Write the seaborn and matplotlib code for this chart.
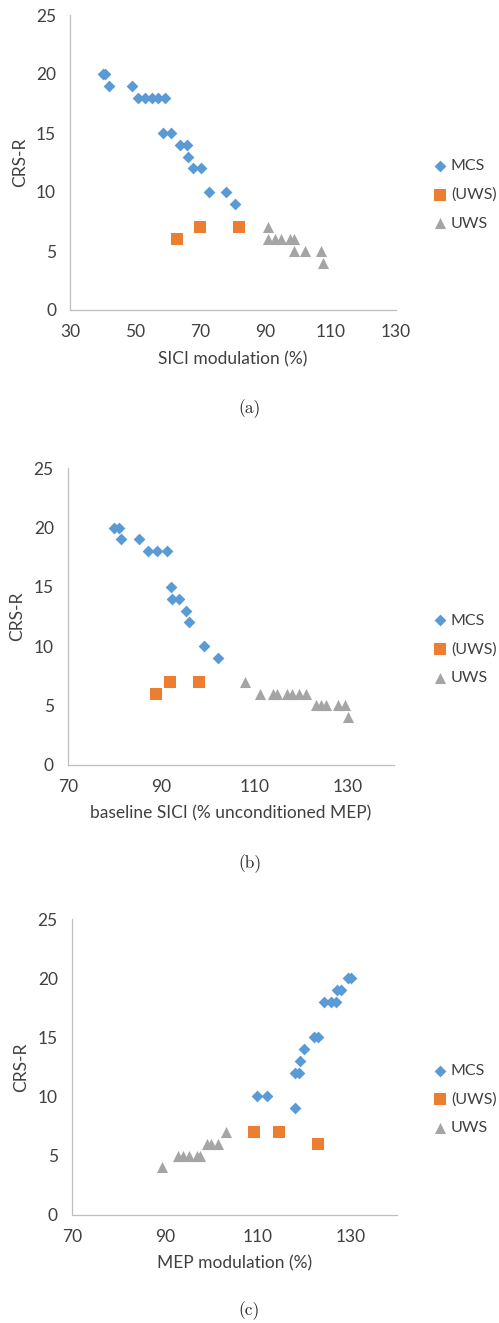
import pandas as pd
import seaborn as sns
import matplotlib.pyplot as plt

# panel (a): SICI modulation
a_mcs_x = [40.0, 40.8, 42.0, 49.0, 51.0, 53.0, 55.0, 57.0, 59.0, 58.6, 61.0, 63.7, 66.0, 66.2, 67.8, 70.3, 72.7, 77.9, 80.7]
a_mcs_y = [20, 20, 19, 19, 18, 18, 18, 18, 18, 15, 15, 14, 14, 13, 12, 12, 10, 10, 9]
a_puws_x = [62.8, 69.9, 81.9]
a_puws_y = [6, 7, 7]
a_uws_x = [90.8, 90.8, 92.9, 94.7, 97.5, 98.8, 98.7, 102.1, 106.9, 107.7]
a_uws_y = [7, 6, 6, 6, 6, 6, 5, 5, 5, 4]

# panel (b): baseline SICI
b_mcs_x = [79.9, 81.1, 81.4, 85.3, 87.3, 89.2, 91.2, 92.1, 92.3, 93.8, 95.3, 96.1, 99.3, 102.3]
b_mcs_y = [20, 20, 19, 19, 18, 18, 18, 15, 14, 14, 13, 12, 10, 9]
b_puws_x = [89.0, 92.0, 98.1]
b_puws_y = [6, 7, 7]
b_uws_x = [108.1, 111.2, 114.1, 114.8, 117.0, 118.1, 119.6, 121.0, 123.2, 124.2, 125.3, 128.0, 129.4, 130.1]
b_uws_y = [7, 6, 6, 6, 6, 6, 6, 6, 5, 5, 5, 5, 5, 4]

# panel (c): MEP modulation
c_mcs_x = [129.4, 130.1, 127.0, 127.9, 124.2, 125.8, 126.9, 122.0, 122.9, 119.9, 119.0, 117.9, 118.8, 109.9, 111.9, 117.9]
c_mcs_y = [20, 20, 19, 19, 18, 18, 18, 15, 15, 14, 13, 12, 12, 10, 10, 9]
c_puws_x = [109.1, 114.6, 123.0]
c_puws_y = [7, 7, 6]
c_uws_x = [89.5, 92.9, 94.0, 95.2, 96.9, 97.6, 99.0, 100.0, 101.5, 103.1]
c_uws_y = [4, 5, 5, 5, 5, 5, 6, 6, 6, 7]

groups = ['MCS', '(UWS)', 'UWS']
colors = {'MCS': '#5B9BD5', '(UWS)': '#ED7D31', 'UWS': '#A5A5A5'}
markers = {'MCS': 'D', '(UWS)': 's', 'UWS': '^'}
sizes = {'MCS': 36, '(UWS)': 80, 'UWS': 64}

sns.set_style('white')
plt.rcParams['font.family'] = ['Lato', 'DejaVu Sans']
txt = '#404040'
grey = '#BFBFBF'
fs = 12.5


def make_df(mx, my, px, py, ux, uy):
    return pd.DataFrame({
        'x': mx + px + ux,
        'y': my + py + uy,
        'group': ['MCS'] * len(mx) + ['(UWS)'] * len(px) + ['UWS'] * len(ux),
    })


panels = [
    (make_df(a_mcs_x, a_mcs_y, a_puws_x, a_puws_y, a_uws_x, a_uws_y), 'SICI modulation (%)', (30, 130), range(30, 131, 20), '(a)'),
    (make_df(b_mcs_x, b_mcs_y, b_puws_x, b_puws_y, b_uws_x, b_uws_y), 'baseline SICI (% unconditioned MEP)', (70, 140), range(70, 131, 20), '(b)'),
    (make_df(c_mcs_x, c_mcs_y, c_puws_x, c_puws_y, c_uws_x, c_uws_y), 'MEP modulation (%)', (70, 140), range(70, 131, 20), '(c)'),
]

W, H = 499, 1323
boxes = [(70, 15, 396, 310), (67.7, 468.3, 394.3, 764.7), (71.7, 919, 397.3, 1214.7)]
cap_y = [409, 864, 1311]

fig = plt.figure(figsize=(W / 100, H / 100), dpi=100)

for (df, xlabel, xlim, xticks, cap), (l, t, r, b), cy in zip(panels, boxes, cap_y):
    ax = fig.add_axes([l / W, 1 - b / H, (r - l) / W, (b - t) / H])
    for g in groups:
        sub = df[df['group'] == g]
        sns.scatterplot(data=sub, x='x', y='y', ax=ax, marker=markers[g], color=colors[g],
                        s=sizes[g], linewidth=0, label=g, clip_on=False)
    ax.set_xlim(*xlim)
    ax.set_ylim(0, 25)
    ax.set_xticks(list(xticks))
    ax.set_yticks(range(0, 26, 5))
    for side in ['top', 'right']:
        ax.spines[side].set_visible(False)
    for side in ['left', 'bottom']:
        ax.spines[side].set_color(grey)
        ax.spines[side].set_linewidth(0.9)
    ax.tick_params(axis='both', direction='out', length=5, width=0.9, color=grey,
                   labelsize=fs, labelcolor=txt, pad=5)
    ax.set_xlabel(xlabel, fontsize=fs, color=txt, labelpad=8)
    ax.set_ylabel('CRS-R', fontsize=fs, color=txt, labelpad=6)

    lx = (434 - l) / (r - l)
    ax.legend(loc='center left', bbox_to_anchor=(lx, 0.39), frameon=False,
              fontsize=11.5, labelcolor=txt, handlelength=0.8, handletextpad=0.25,
              borderpad=0, borderaxespad=0, labelspacing=0.9)

    fig.text(0.5, 1 - cy / H, cap, family='cmr10', fontsize=12.5, ha='center', va='center')

fig.savefig('out.png', dpi=100)
